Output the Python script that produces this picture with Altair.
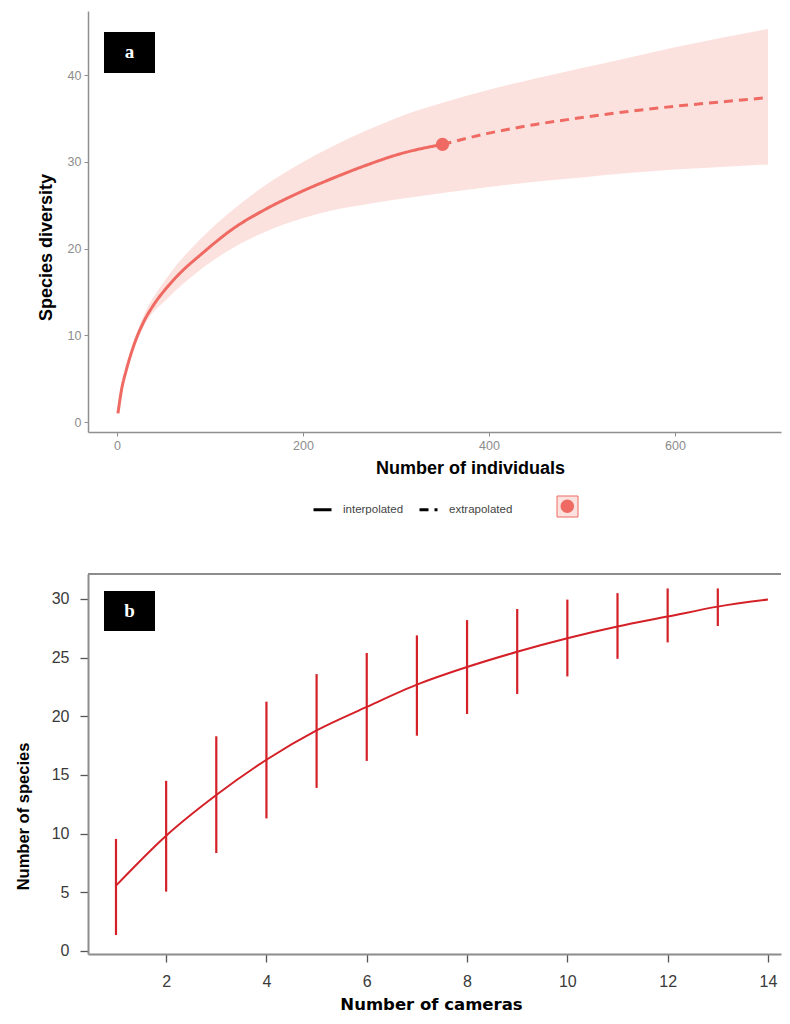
import altair as alt
import pandas as pd

# ---------------- Panel a data (rarefaction / extrapolation) ----------------
a_interp_x = [1, 5, 10, 17, 28, 40, 54, 70, 89, 125, 161, 197, 232, 268, 304, 350]
a_interp_y = [1.0, 3.8, 6.0, 8.5, 11.4, 13.6, 15.55, 17.4, 19.2, 22.3, 24.6, 26.5, 28.1, 29.6, 30.9, 32.0]
a_extrap_x = [350, 400, 450, 500, 550, 600, 650, 700]
a_extrap_y = [32.0, 33.3, 34.3, 35.1, 35.8, 36.4, 36.9, 37.4]
a_band_x = [1, 10, 17, 28, 54, 89, 125, 161, 197, 232, 268, 304, 350, 400, 450, 500, 550, 600, 650, 700]
a_band_lo = [1.0, 5.7, 8.1, 10.9, 14.2, 17.5, 20.1, 22.0, 23.4, 24.4, 25.1, 25.7, 26.4, 27.1, 27.7, 28.2, 28.7, 29.1, 29.4, 29.7]
a_band_hi = [1.0, 6.3, 9.0, 12.1, 16.7, 21.0, 24.5, 27.4, 29.8, 31.8, 33.6, 35.2, 36.8, 38.3, 39.6, 40.8, 42.0, 43.2, 44.3, 45.3]
a_obs_x = [350]
a_obs_y = [32.0]
a_methods = ["interpolated", "extrapolated"]
a_xticks = [0, 200, 400, 600]
a_yticks = [0, 10, 20, 30, 40]

# ---------------- Panel b data (species accumulation) ----------------
b_cameras = [1, 2, 3, 4, 5, 6, 7, 8, 9, 10, 11, 12, 13, 14]
b_mean = [5.57, 9.83, 13.3, 16.3, 18.8, 20.8, 22.7, 24.2, 25.5, 26.65, 27.65, 28.5, 29.35, 29.95]
b_lo = [1.36, 5.06, 8.35, 11.3, 13.9, 16.2, 18.35, 20.2, 21.9, 23.4, 24.9, 26.3, 27.7, 29.95]
b_hi = [9.55, 14.5, 18.3, 21.25, 23.6, 25.4, 26.9, 28.2, 29.15, 29.95, 30.5, 30.9, 30.9, 29.95]
b_xticks = [2, 4, 6, 8, 10, 12, 14]
b_yticks = [0, 5, 10, 15, 20, 25, 30]

panel_labels = ["a", "b"]

SALMON = "#EE6A62"
PINK = "#FCE2DF"
RED = "#D42027"
W = 693
HA = 421
HB = 380

# ---------------- Panel a ----------------
df_lines = pd.DataFrame({
    "x": a_interp_x + a_extrap_x,
    "y": a_interp_y + a_extrap_y,
    "method": [a_methods[0]] * len(a_interp_x) + [a_methods[1]] * len(a_extrap_x),
})
df_band = pd.DataFrame({"x": a_band_x, "lo": a_band_lo, "hi": a_band_hi, "band": ["ci"] * len(a_band_x)})
df_obs = pd.DataFrame({"x": a_obs_x, "y": a_obs_y, "site": ["site"]})

GREY_AX = "#8f8f8f"

def xa(field):
    return alt.X(field + ":Q", scale=alt.Scale(domain=[-31.2, 714], nice=False, zero=False),
                 axis=alt.Axis(values=a_xticks, title="Number of individuals", grid=False,
                               domainColor=GREY_AX, domainWidth=1.5, tickColor=GREY_AX, tickSize=4,
                               labelColor="#8c8c8c", labelFont="Liberation Sans", labelFontSize=12.5,
                               labelPadding=3, titleFont="Liberation Sans", titleFontSize=18,
                               titleFontWeight="bold", titleColor="black", titleX=382, titleY=36,
                               titleBaseline="middle", titleAlign="center"))

def ya(field):
    return alt.Y(field + ":Q", scale=alt.Scale(domain=[-1.15, 47.38], nice=False, zero=False),
                 axis=alt.Axis(values=a_yticks, title="Species diversity", grid=False,
                               domainColor=GREY_AX, domainWidth=1.5, tickColor=GREY_AX, tickSize=4,
                               labelColor="#8c8c8c", labelFont="Liberation Sans", labelFontSize=12.5,
                               labelPadding=3, titleFont="Liberation Sans", titleFontSize=18,
                               titleFontWeight="bold", titleColor="black", titleX=-42, titleY=236,
                               titleAngle=270, titleBaseline="middle", titleAlign="center"))

band = alt.Chart(df_band).mark_area(opacity=1, interpolate="monotone").encode(
    x=xa("x"), y=ya("lo"), y2="hi",
    fill=alt.Fill("band:N", scale=alt.Scale(domain=["ci"], range=[PINK]),
                  legend=alt.Legend(orient="none", legendX=468.5, legendY=484.5, title=None,
                                    symbolType="square", symbolSize=441, symbolStrokeColor=SALMON,
                                    symbolStrokeWidth=1, labelExpr="''", padding=0)),
)

lines = alt.Chart(df_lines).mark_line(strokeWidth=3, color=SALMON, interpolate="monotone").encode(
    x=xa("x"), y=ya("y"),
    strokeDash=alt.StrokeDash("method:N", sort=a_methods,
                              scale=alt.Scale(domain=a_methods, range=[[1, 0], [9, 6]]),
                              legend=alt.Legend(orient="none", legendX=224, legendY=488, title=None,
                                                direction="horizontal", symbolType="stroke",
                                                symbolSize=324, symbolStrokeColor="black",
                                                symbolStrokeWidth=3, labelFont="Liberation Sans",
                                                labelFontSize=11.5, labelColor="#444444",
                                                labelOffset=10, columnPadding=9, padding=0)),
)

obs = alt.Chart(df_obs).mark_point(filled=True, size=175, opacity=1).encode(
    x=xa("x"), y=ya("y"),
    color=alt.Color("site:N", scale=alt.Scale(domain=["site"], range=[SALMON]),
                    legend=alt.Legend(orient="none", legendX=472.3, legendY=488.3, title=None,
                                      symbolType="circle", symbolSize=180, labelExpr="''",
                                      padding=0, symbolStrokeWidth=0)),
)

lab_a_df = pd.DataFrame({"label": [panel_labels[0]]})
box_a = alt.Chart(lab_a_df).mark_rect(color="black").encode(
    x=alt.value(16), x2=alt.value(67), y=alt.value(21), y2=alt.value(62))
txt_a = alt.Chart(lab_a_df).mark_text(color="white", font="Liberation Serif", fontSize=19,
                                      fontWeight="bold", align="center", baseline="middle").encode(
    x=alt.value(41.5), y=alt.value(40.5), text="label:N")

panel_a = alt.layer(band, lines, obs, box_a, txt_a).properties(width=W, height=HA)

# ---------------- Panel b ----------------
df_b = pd.DataFrame({"cam": b_cameras, "mean": b_mean, "lo": b_lo, "hi": b_hi})

def xb():
    return alt.X("cam:Q", scale=alt.Scale(domain=[0.442, 14.26], nice=False, zero=False),
                 axis=alt.Axis(values=b_xticks, title="Number of cameras", grid=False,
                               domainColor="#8c8c8c", domainWidth=2, tickColor="#555555", tickWidth=1.3,
                               tickSize=8, labelColor="#3a3a3a", labelFont="Liberation Sans",
                               labelFontSize=16, labelPadding=11, titleFont="DejaVu Sans",
                               titleFontSize=16.5, titleFontWeight="bold", titleColor="black",
                               titleX=343, titleY=50, titleBaseline="middle", titleAlign="center"))

def yb(field):
    return alt.Y(field + ":Q", scale=alt.Scale(domain=[-0.256, 32.13], nice=False, zero=False),
                 axis=alt.Axis(values=b_yticks, title="Number of species", grid=False,
                               domainColor="#8c8c8c", domainWidth=2, tickColor="#555555", tickWidth=1.3,
                               tickSize=8, labelColor="#3a3a3a", labelFont="Liberation Sans",
                               labelFontSize=16, labelPadding=11, titleFont="Liberation Sans",
                               titleFontSize=16.5, titleFontWeight="bold", titleColor="black",
                               titleX=-65, titleY=242, titleAngle=270, titleBaseline="middle",
                               titleAlign="center"))

curve = alt.Chart(df_b).mark_line(color=RED, strokeWidth=2, interpolate="monotone").encode(
    x=xb(), y=yb("mean"))
bars = alt.Chart(df_b).mark_rule(color=RED, strokeWidth=2.2).encode(
    x=xb(), y=yb("lo"), y2="hi")
top_border = alt.Chart(pd.DataFrame({"k": [0]})).mark_rule(color="#8c8c8c", strokeWidth=2).encode(
    x=alt.value(0), x2=alt.value(W), y=alt.value(0))

lab_b_df = pd.DataFrame({"label": [panel_labels[1]]})
box_b = alt.Chart(lab_b_df).mark_rect(color="black").encode(
    x=alt.value(16), x2=alt.value(67), y=alt.value(17), y2=alt.value(57))
txt_b = alt.Chart(lab_b_df).mark_text(color="white", font="Liberation Serif", fontSize=19,
                                      fontWeight="bold", align="center", baseline="middle").encode(
    x=alt.value(41.5), y=alt.value(37), text="label:N")

panel_b = alt.layer(bars, curve, top_border, box_b, txt_b).properties(width=W, height=HB)

chart = alt.vconcat(panel_a, panel_b, spacing=96).properties(
    padding={"left": 7, "top": 3, "right": 0, "bottom": 0}
).configure(background="white").configure_view(strokeWidth=0, stroke="transparent")

chart.save("out.html", embed_options={"renderer": "svg", "actions": False})
